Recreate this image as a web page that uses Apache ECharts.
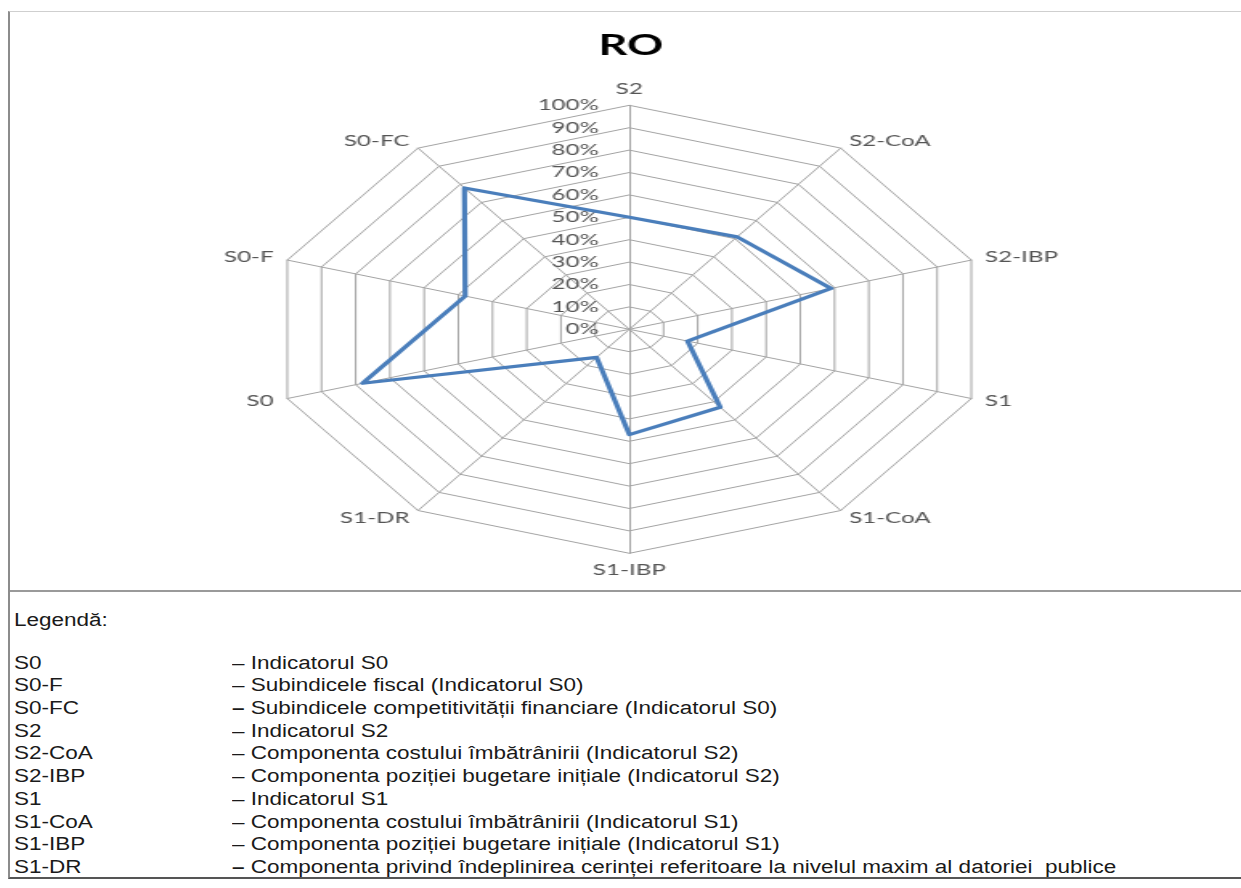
<!DOCTYPE html>
<html>
<head>
<meta charset="utf-8">
<script src="https://cdn.jsdelivr.net/npm/echarts@6/dist/echarts.min.js"></script>
<style>
html,body{margin:0;padding:0;background:#fff;width:1241px;height:888px;overflow:hidden;}
#frame{position:absolute;left:8px;top:11px;width:1233px;height:868px;border-top:1px solid #cfcfcf;border-left:2px solid #8c8c8c;border-bottom:2px solid #555;box-sizing:border-box;}
#sep{position:absolute;left:10px;top:590px;width:1231px;height:0;border-top:2px solid #9a9a9a;}
#chart{position:absolute;left:0;top:0;width:773px;height:590px;transform:scaleX(1.6054);transform-origin:0 0;}
#legend{position:absolute;left:0;top:0;font-family:"Liberation Sans",Arial,sans-serif;font-size:18px;color:#1a1a1a;}
.row{position:absolute;white-space:pre;line-height:22.7px;height:22.7px;transform:scaleX(1.25);transform-origin:0 50%;}
</style>
</head>
<body>
<div id="frame"></div>
<div id="sep"></div>
<div id="chart"></div>
<div id="legend"></div>
<script>
// Categories clockwise from the top
const categories = ['S2','S2-CoA','S2-IBP','S1','S1-CoA','S1-IBP','S1-DR','S0','S0-F','S0-FC'];
// Values (%) for RO, same order
const valuesRO = [50, 51, 59, 17, 43, 47, 15.5, 78, 48, 78];
// Radial tick values
const tickValues = [0,10,20,30,40,50,60,70,80,90,100];
// Legend
const legendTitle = 'Legendă:';
const legendCodes = ['S0','S0-F','S0-FC','S2','S2-CoA','S2-IBP','S1','S1-CoA','S1-IBP','S1-DR'];
const legendTexts = [
  '– Indicatorul S0',
  '– Subindicele fiscal (Indicatorul S0)',
  '– Subindicele competitivității financiare (Indicatorul S0)',
  '– Indicatorul S2',
  '– Componenta costului îmbătrânirii (Indicatorul S2)',
  '– Componenta poziției bugetare inițiale (Indicatorul S2)',
  '– Indicatorul S1',
  '– Componenta costului îmbătrânirii (Indicatorul S1)',
  '– Componenta poziției bugetare inițiale (Indicatorul S1)',
  '– Componenta privind îndeplinirea cerinței referitoare la nivelul maxim al datoriei  publice'
];

// ECharts lays radar indicators counter-clockwise; reorder to get clockwise
const order = [0].concat(categories.map((_, i) => i).slice(1).reverse());
const tMin = tickValues[0], tMax = tickValues[tickValues.length - 1];
const indicator = order.map(i => ({ name: categories[i], min: tMin, max: tMax }));
const seriesValues = order.map(i => valuesRO[i]);

const CX = 392, CY = 329.3, R = 224;
const labelFont = { color: '#555555', fontFamily: 'Lato', fontSize: 15 };

const chart = echarts.init(document.getElementById('chart'), null, { renderer: 'canvas' });
chart.setOption({
  animation: false,
  title: {
    text: 'RO', left: CX - 4, top: 27, textAlign: 'center',
    textStyle: { color: '#000', fontFamily: 'Lato', fontWeight: 'bold', fontSize: 28 }
  },
  radar: {
    center: [CX, CY],
    radius: R,
    startAngle: 90,
    splitNumber: tickValues.length - 1,
    shape: 'polygon',
    nameGap: 9,
    axisName: labelFont,
    splitLine: { lineStyle: { color: '#a3a3a3', width: 1 } },
    splitArea: { show: false },
    axisLine: { lineStyle: { color: '#a3a3a3', width: 1 } },
    axisTick: { show: false },
    axisLabel: { show: false },
    indicator: indicator
  },
  grid: { left: CX, top: CY - R, width: 1, height: R },
  xAxis: { type: 'value', show: false, min: 0, max: 1 },
  yAxis: {
    type: 'value', min: tMin, max: tMax, interval: tickValues[1] - tickValues[0],
    axisLine: { show: false }, axisTick: { show: false }, splitLine: { show: false },
    axisLabel: Object.assign({ formatter: '{value}%', margin: 19 }, labelFont)
  },
  series: [{
    type: 'radar',
    symbol: 'none',
    lineStyle: { color: '#4a7ebb', width: 3.2 },
    data: [{ value: seriesValues, name: 'RO' }]
  }]
});

// Legend text block
const lg = document.getElementById('legend');
function addRow(text, x, yc, bold) {
  const d = document.createElement('div');
  d.className = 'row';
  d.style.left = x + 'px';
  d.style.top = (yc - 11.35) + 'px';
  if (bold) {
    const b = document.createElement('b');
    b.textContent = text.charAt(0);
    d.appendChild(b);
    d.appendChild(document.createTextNode(text.slice(1)));
  } else {
    d.textContent = text;
  }
  lg.appendChild(d);
}
addRow(legendTitle, 14, 620, false);
legendCodes.forEach((c, i) => {
  const yc = 663 + i * 22.7;
  addRow(c, 14, yc, false);
  addRow(legendTexts[i], 232, yc, i === 2 || i === 9);
});
</script>
</body>
</html>
